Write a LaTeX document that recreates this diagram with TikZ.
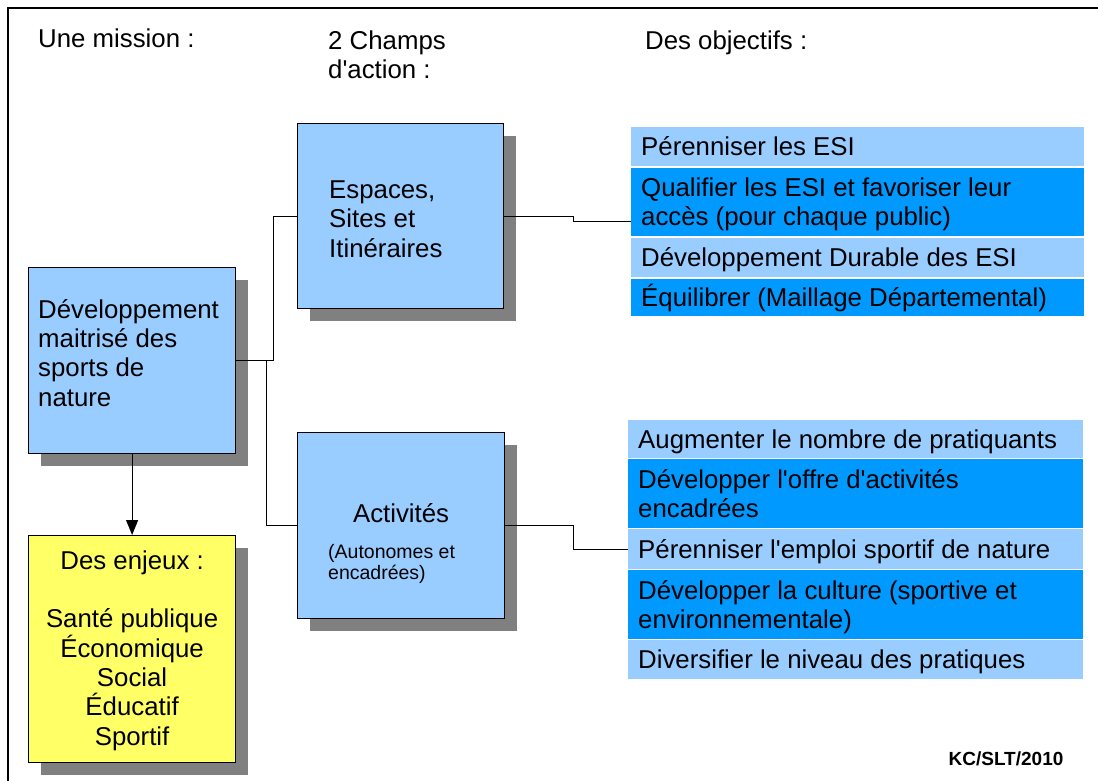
\documentclass[tikz,border=0pt]{standalone}
\usepackage{fontspec}
\setmainfont{Liberation Sans}[Ligatures=TeXOff]
\usetikzlibrary{shadows,arrows.meta,calc}
\definecolor{lblue}{HTML}{99CCFF}
\definecolor{dblue}{HTML}{0099FF}
\definecolor{yel}{HTML}{FFFF66}
\definecolor{shad}{HTML}{808080}
\begin{document}
\begin{tikzpicture}[x=1pt,y=-1pt,
  box/.style={draw=black, line width=1.2pt, anchor=north west, inner sep=0pt,
    drop shadow={shadow xshift=12pt, shadow yshift=-12pt, fill=shad, opacity=1}},
  txt/.style={inner sep=0pt, font=\fontsize{25.8}{29.3}\selectfont},
  smalltxt/.style={inner sep=0pt, font=\fontsize{19.5}{21}\selectfont},
  rowbox/.style={anchor=north west, inner sep=0pt, draw=none},
  conn/.style={draw=black, line width=1.1pt},
  arr/.style={draw=black, line width=1.1pt, -{Triangle[length=15pt,width=12pt]}}]
\useasboundingbox (0,0) rectangle (1098,781);
\fill[white] (0,0) rectangle (1098,781);
% frame
\draw[line width=1.8pt] (8,790) -- (8,8) -- (1110,8);
% headings (base anchor = baseline of last line)
\node[txt, anchor=base west] (h1) at (38,48) {Une mission :};
\node[txt, anchor=base west, align=left] (h2) at (328,79) {2 Champs\\d'action :};
\node[txt, anchor=base west] (h3) at (645,50) {Des objectifs :};
% mission box
\node[box, fill=lblue, minimum width=207pt, minimum height=186pt] (M) at (28,267) {};
\node[txt, anchor=base west, align=left] (Mt) at ($(M.north west)+(10,139)$) {Développement\\maitrisé des\\sports de\\nature};
% champs
\node[box, fill=lblue, minimum width=206pt, minimum height=185pt] (A) at (297,123) {};
\node[txt, anchor=base west, align=left] (At) at ($(A.north west)+(32,134)$) {Espaces,\\Sites et\\Itinéraires};
\node[box, fill=lblue, minimum width=207pt, minimum height=186pt] (B) at (297,432) {};
\node[txt, anchor=base] (Bt) at ($(B.north)+(0,90)$) {Activités};
\node[smalltxt, anchor=base west, align=left] (Bs) at ($(B.north west)+(31,147)$) {(Autonomes et\\encadrées)};
% enjeux
\node[box, fill=yel, minimum width=207pt, minimum height=227pt] (Y) at (28,535) {};
\node[txt, anchor=base, align=center] (Yt) at ($(Y.north)+(0,210)$) {Des enjeux :\\[29.3pt]Santé publique\\Économique\\Social\\Éducatif\\Sportif};
% objectifs 1
\node[rowbox, minimum width=453pt, minimum height=189pt] (O1) at (631,127) {};
\node[rowbox, fill=lblue, minimum width=453pt, minimum height=39pt] (o11) at (631,127) {};
\node[rowbox, fill=dblue, minimum width=453pt, minimum height=68.5pt] (o12) at (631,167.5) {};
\node[rowbox, fill=lblue, minimum width=453pt, minimum height=39.5pt] (o13) at (631,237.5) {};
\node[rowbox, fill=dblue, minimum width=453pt, minimum height=37.5pt] (o14) at (631,278.5) {};
\node[txt, anchor=base west] at ($(o11.west)+(10,9)$) {Pérenniser les ESI};
\node[txt, anchor=base west, align=left] at ($(o12.west)+(10,23.8)$) {Qualifier les ESI et favoriser leur\\accès (pour chaque public)};
\node[txt, anchor=base west] at ($(o13.west)+(10,9)$) {Développement Durable des ESI};
\node[txt, anchor=base west] at ($(o14.west)+(10,9)$) {Équilibrer (Maillage Départemental)};
% objectifs 2
\node[rowbox, minimum width=455pt, minimum height=259pt] (O2) at (628,420) {};
\node[rowbox, fill=lblue, minimum width=455pt, minimum height=38pt] (o21) at (628,420) {};
\node[rowbox, fill=dblue, minimum width=455pt, minimum height=69pt] (o22) at (628,459) {};
\node[rowbox, fill=lblue, minimum width=455pt, minimum height=40pt] (o23) at (628,529) {};
\node[rowbox, fill=dblue, minimum width=455pt, minimum height=69pt] (o24) at (628,570) {};
\node[rowbox, fill=lblue, minimum width=455pt, minimum height=39pt] (o25) at (628,640) {};
\node[txt, anchor=base west] at ($(o21.west)+(10,9)$) {Augmenter le nombre de pratiquants};
\node[txt, anchor=base west, align=left] at ($(o22.west)+(10,23.8)$) {Développer l'offre d'activités\\encadrées};
\node[txt, anchor=base west] at ($(o23.west)+(10,9)$) {Pérenniser l'emploi sportif de nature};
\node[txt, anchor=base west, align=left] at ($(o24.west)+(10,23.8)$) {Développer la culture (sportive et\\environnementale)};
\node[txt, anchor=base west] at ($(o25.west)+(10,9)$) {Diversifier le niveau des pratiques};
% connectors
\draw[conn] (M.east) -- ++(37,0) |- (A.west);
\draw[conn] (M.east) -- ++(30,0) |- (B.west);
\draw[conn] (A.east) -- ++(69,0) |- (O1.west);
\draw[conn] (B.east) -- ++(68,0) |- (O2.west);
\draw[arr] (M.south) -- (Y.north);
% credit
\node[inner sep=0pt, font=\bfseries\fontsize{19}{22}\selectfont, anchor=base] (kc) at (1006,765) {KC/SLT/2010};
\end{tikzpicture}
\end{document}
